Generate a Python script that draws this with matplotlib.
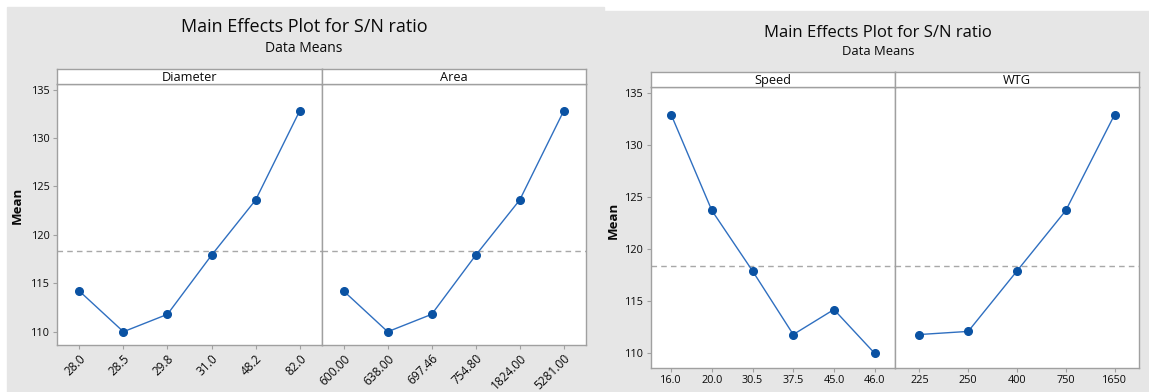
import matplotlib.pyplot as plt
from matplotlib.patches import Rectangle

plt.rcParams['font.family'] = ['Open Sans', 'DejaVu Sans']

W, H = 1149, 392

diameter_levels = ["28.0", "28.5", "29.8", "31.0", "48.2", "82.0"]
diameter_means = [114.2, 110.0, 111.8, 117.9, 123.6, 132.8]
area_levels = ["600.00", "638.00", "697.46", "754.80", "1824.00", "5281.00"]
area_means = [114.2, 110.0, 111.8, 117.9, 123.6, 132.8]
speed_levels = ["16.0", "20.0", "30.5", "37.5", "45.0", "46.0"]
speed_means = [132.9, 123.7, 117.9, 111.8, 114.2, 110.0]
wtg_levels = ["225", "250", "400", "750", "1650"]
wtg_means = [111.8, 112.1, 117.9, 123.7, 132.9]
grand_mean = 118.35

BG = '#e6e6e6'
FRAME = '#a0a0a0'
LINE = '#2f6fc0'
DOT = '#0a52a3'
INK = '#0a0a0a'


def px_axes(fig, x0, y0, x1, y1):
    # pixel box measured from the top-left corner
    return fig.add_axes([x0 / W, 1 - y1 / H, (x1 - x0) / W, (y1 - y0) / H])


def strip(fig, x0, y0, x1, y1, label, fs):
    ax = px_axes(fig, x0, y0, x1, y1)
    ax.set_facecolor('white')
    ax.set_xticks([])
    ax.set_yticks([])
    for s in ax.spines.values():
        s.set_color(FRAME)
        s.set_linewidth(1.0)
    ax.text(0.5, 0.45, label, ha='center', va='center', fontsize=fs,
            color=INK, transform=ax.transAxes)


def panel(ax, levels, means, ylim, rot, fs, show_y):
    x = list(range(len(levels)))
    ax.axhline(grand_mean, color='#a8a8a8', lw=1.0, ls=(0, (4, 3)), zorder=1)
    ax.plot(x, means, color=LINE, lw=1.0, zorder=2)
    ax.plot(x, means, 'o', color=DOT, ms=5.5, zorder=3)
    ax.set_xlim(-0.5, len(levels) - 0.5)
    ax.set_ylim(*ylim)
    ax.set_xticks(x)
    if rot:
        ax.set_xticklabels(levels, rotation=45, ha='right', va='top',
                           rotation_mode='anchor', fontsize=fs + 0.8)
    else:
        ax.set_xticklabels(levels, fontsize=fs)
    ax.set_yticks([110, 115, 120, 125, 130, 135])
    ax.tick_params(length=3, width=0.8, color=FRAME, pad=2, labelcolor=INK)
    ax.tick_params(axis='y', labelsize=fs)
    if not show_y:
        ax.tick_params(axis='y', left=False, labelleft=False)
    for s in ax.spines.values():
        s.set_color(FRAME)
        s.set_linewidth(1.0)


fig = plt.figure(figsize=(W / 100, H / 100), dpi=100)
fig.patch.set_facecolor('white')
fig.patches.append(Rectangle((7 / W, 0), (604 - 7) / W, (H - 7) / H,
                             transform=fig.transFigure, color=BG, zorder=-10))
fig.patches.append(Rectangle((604 / W, 0), (W - 604) / W, (H - 11) / H,
                             transform=fig.transFigure, color=BG, zorder=-10))

# left chart: Diameter / Area
ylim_l = (108.63, 135.55)
fig.text(304 / W, 1 - 31.7 / H, "Main Effects Plot for S/N ratio", ha='center',
         va='baseline', fontsize=13, color=INK)
fig.text(304 / W, 1 - 51.7 / H, "Data Means", ha='center', va='baseline',
         fontsize=10, color=INK)
ax1 = px_axes(fig, 57.3, 84.3, 321.7, 345)
panel(ax1, diameter_levels, diameter_means, ylim_l, True, 7.8, True)
ax2 = px_axes(fig, 321.7, 84.3, 585.7, 345)
panel(ax2, area_levels, area_means, ylim_l, True, 7.8, False)
strip(fig, 57.3, 69.3, 321.7, 84.3, "Diameter", 9.2)
strip(fig, 321.7, 69.3, 585.7, 84.3, "Area", 9.2)
fig.text(17 / W, 1 - 205 / H, "Mean", rotation=90, ha='center', va='center',
         fontsize=9.5, fontweight='bold', color=INK)

# right chart: Speed / WTG
ylim_r = (108.56, 135.52)
fig.text(878 / W, 1 - 36.7 / H, "Main Effects Plot for S/N ratio", ha='center',
         va='baseline', fontsize=12, color=INK)
fig.text(878 / W, 1 - 55 / H, "Data Means", ha='center', va='baseline',
         fontsize=9.4, color=INK)
ax3 = px_axes(fig, 650.8, 87.3, 895, 368.3)
panel(ax3, speed_levels, speed_means, ylim_r, False, 7.8, True)
ax4 = px_axes(fig, 895, 87.3, 1139, 368.3)
panel(ax4, wtg_levels, wtg_means, ylim_r, False, 7.8, False)
strip(fig, 650.8, 71.7, 895, 87.3, "Speed", 9.2)
strip(fig, 895, 71.7, 1139, 87.3, "WTG", 9.2)
fig.text(613.5 / W, 1 - 220 / H, "Mean", rotation=90, ha='center', va='center',
         fontsize=9.5, fontweight='bold', color=INK)

fig.savefig('out.png', dpi=100, facecolor=fig.get_facecolor())
